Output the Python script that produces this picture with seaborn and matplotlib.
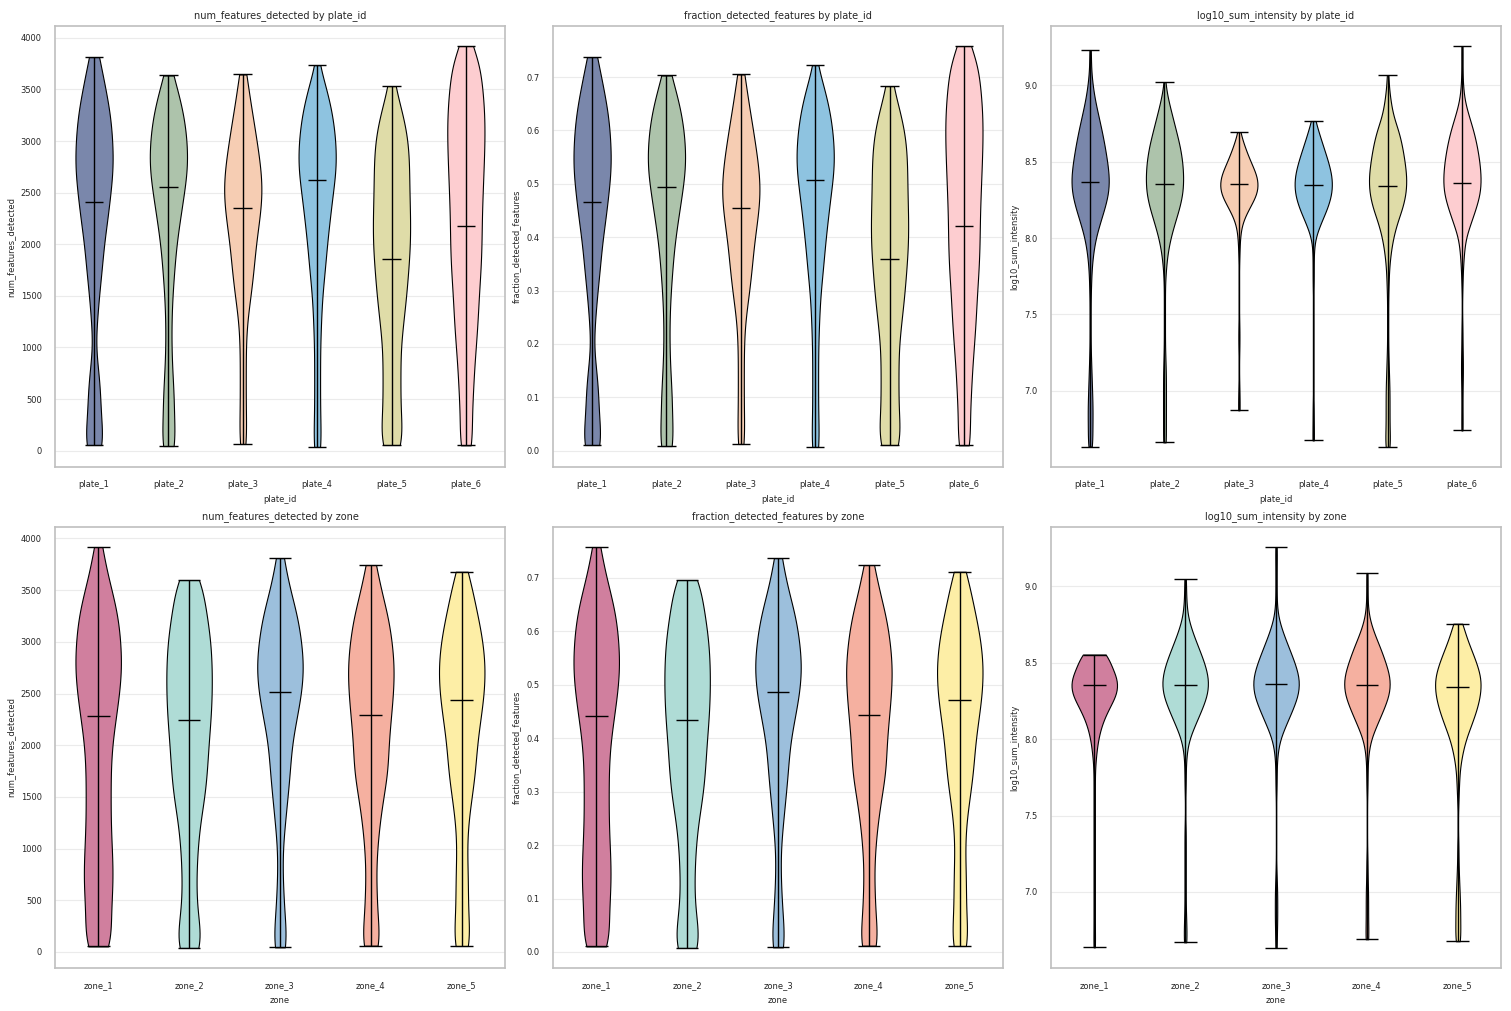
import numpy as np
import pandas as pd
import matplotlib
matplotlib.use("Agg")
import matplotlib.pyplot as plt
import seaborn as sns

# total number of features on the panel (fraction = detected / total)
TOTAL_FEATURES = 5170

PLATES = ["plate_1", "plate_2", "plate_3", "plate_4", "plate_5", "plate_6"]
ZONES = ["zone_1", "zone_2", "zone_3", "zone_4", "zone_5"]

PLATE_COLORS = ["#7a87ab", "#adc3ab", "#f6cdb3", "#8ec3e0", "#dfdca8", "#fdcdd0"]
ZONE_COLORS = ["#d07f9e", "#afdcd6", "#9cbfdc", "#f5b0a0", "#fdeea6"]

# bin centres used for the per-group sample counts
NUM_GRID = [250, 500, 750, 1000, 1250, 1500, 1750, 2000, 2250, 2500, 2750,
            3000, 3250, 3500, 3750]
LOG_GRID = [6.7, 6.8, 6.9, 7.0, 7.1, 7.2, 7.3, 7.4, 7.5, 7.6, 7.7, 7.8, 7.9,
            8.0, 8.1, 8.2, 8.3, 8.4, 8.5, 8.6, 8.7, 8.8, 8.9, 9.0, 9.1, 9.2]

# ---- num_features_detected by plate ----
plate_num_min = [55, 45, 65, 36, 55, 52]
plate_num_max = [3813, 3635, 3645, 3735, 3532, 3920]
plate_num_mean = [2410, 2555, 2350, 2622, 1857, 2176]
# counts: [at min] + NUM_GRID + [at max]
plate_num_counts = [
    [10, 6, 7, 5, 1, 3, 5, 8, 10, 14, 17, 20, 19, 17, 12, 6, 1],
    [7, 5, 6, 4, 3, 3, 4, 6, 8, 12, 16, 20, 19, 16, 9, 0, 1],
    [3, 3, 3, 3, 3, 4, 8, 11, 13, 17, 20, 18, 14, 10, 5, 0, 2],
    [4, 3, 3, 3, 3, 4, 5, 8, 10, 13, 16, 20, 19, 16, 10, 0, 1],
    [10, 9, 9, 9, 9, 12, 15, 17, 19, 19, 18, 18, 17, 12, 3, 0, 1],
    [6, 5, 7, 8, 10, 12, 13, 15, 16, 16, 17, 18, 19, 19, 17, 14, 3],
]

# ---- num_features_detected by zone ----
zone_num_min = [54, 39, 45, 61, 58]
zone_num_max = [3917, 3598, 3810, 3743, 3678]
zone_num_mean = [2279, 2244, 2515, 2292, 2437]
zone_num_counts = [
    [9, 9, 11, 12, 11, 10, 10, 10, 11, 14, 17, 19, 18, 16, 11, 5, 2],
    [10, 8, 6, 6, 7, 9, 13, 15, 16, 18, 19, 19, 18, 15, 10, 0, 4],
    [5, 4, 3, 2, 2, 4, 6, 8, 9, 13, 17, 19, 17, 14, 8, 3, 1],
    [7, 5, 5, 4, 5, 7, 10, 14, 14, 16, 18, 19, 17, 14, 8, 0, 4],
    [6, 5, 5, 5, 4, 5, 8, 11, 12, 15, 18, 19, 17, 13, 8, 0, 3],
]

# ---- log10_sum_intensity by plate ----
plate_log_min = [6.635, 6.662, 6.872, 6.675, 6.632, 6.74]
plate_log_max = [9.23, 9.022, 8.694, 8.767, 9.068, 9.258]
plate_log_mean = [8.367, 8.355, 8.355, 8.349, 8.34, 8.362]
# counts: [at min] + LOG_GRID + [at max]
plate_log_counts = [
    [3, 4, 5, 5, 4, 3, 2, 1, 1, 1, 1, 2, 3, 6, 11, 20, 30, 38, 39, 35, 30, 24, 17, 10, 5, 2, 1, 1],
    [2, 2, 3, 3, 3, 3, 2, 1, 1, 1, 1, 1, 3, 6, 12, 21, 31, 38, 39, 37, 32, 24, 16, 8, 1, 0, 0, 1],
    [1, 0, 0, 1, 1, 0, 0, 1, 1, 0, 0, 0, 0, 1, 2, 5, 20, 38, 37, 22, 11, 0, 0, 0, 0, 0, 0, 1],
    [1, 1, 1, 1, 0, 0, 0, 0, 0, 0, 0, 1, 1, 1, 3, 15, 29, 38, 38, 30, 20, 10, 0, 0, 0, 0, 0, 1],
    [4, 4, 4, 4, 4, 3, 2, 1, 1, 1, 1, 2, 3, 6, 11, 19, 31, 38, 39, 35, 30, 23, 11, 6, 2, 0, 0, 1],
    [1, 0, 1, 1, 1, 2, 2, 1, 1, 0, 0, 1, 2, 4, 7, 18, 29, 38, 39, 36, 31, 24, 14, 5, 2, 1, 1, 1],
]

# ---- log10_sum_intensity by zone ----
zone_log_min = [6.637, 6.67, 6.633, 6.69, 6.677]
zone_log_max = [8.554, 9.046, 9.258, 9.088, 8.756]
zone_log_mean = [8.354, 8.354, 8.36, 8.354, 8.341]
zone_log_counts = [
    [1, 1, 1, 1, 1, 1, 1, 1, 1, 1, 1, 1, 1, 3, 6, 12, 23, 38, 39, 20, 0, 0, 0, 0, 0, 0, 0, 14],
    [1, 2, 2, 1, 1, 1, 1, 1, 1, 0, 0, 1, 1, 2, 6, 17, 28, 38, 39, 32, 22, 12, 4, 2, 1, 0, 0, 1],
    [1, 1, 2, 2, 2, 1, 0, 0, 0, 0, 0, 1, 1, 2, 6, 17, 28, 38, 39, 31, 21, 11, 3, 1, 1, 1, 1, 1],
    [1, 2, 2, 2, 2, 1, 1, 0, 0, 0, 0, 1, 1, 2, 6, 17, 28, 38, 39, 31, 22, 11, 3, 1, 1, 0, 0, 1],
    [1, 4, 4, 4, 3, 2, 1, 1, 0, 0, 1, 2, 3, 7, 13, 23, 32, 38, 39, 31, 21, 10, 0, 0, 0, 0, 0, 4],
]

NUM_BW = 190.0
LOG_BW = 0.07


def expand(grid, counts, lo, hi):
    pts = np.concatenate([[lo], grid, [hi]])
    return np.repeat(pts, counts)


def violin_panel(ax, cats, colors, grid, counts, lo, hi, mean, metric, group, bw, scale=1.0):
    frames = []
    for cat, c, l, h in zip(cats, counts, lo, hi):
        vals = expand(grid, c, l, h) / scale
        frames.append(pd.DataFrame({group: cat, metric: vals}))
    df = pd.concat(frames, ignore_index=True)
    bw_abs = bw / scale

    sns.violinplot(data=df, x=group, y=metric, hue=group, order=cats, hue_order=cats,
                   palette=colors, legend=False, cut=0, density_norm="width",
                   width=0.5, inner=None, linecolor="black", linewidth=0.8,
                   saturation=1, bw_method=lambda k: bw_abs / np.std(k.dataset, ddof=1),
                   ax=ax)

    lo = np.asarray(lo) / scale
    hi = np.asarray(hi) / scale
    mean = np.asarray(mean) / scale
    for i in range(len(cats)):
        ax.vlines(i, lo[i], hi[i], colors="black", linewidth=1.0, zorder=3)
        ax.hlines([lo[i], hi[i], mean[i]], i - 0.125, i + 0.125, colors="black",
                  linewidth=1.0, zorder=3)

    n = len(cats)
    xm = 0.05 * (n - 1 + 0.5)
    ax.set_xlim(-0.25 - xm, n - 1 + 0.25 + xm)
    ymin, ymax = lo.min(), hi.max()
    ym = 0.05 * (ymax - ymin)
    ax.set_ylim(ymin - ym, ymax + ym)

    ax.set_title(f"{metric} by {group}", fontsize=7)
    ax.set_xlabel(group, fontsize=6)
    ax.set_ylabel(metric, fontsize=6)
    ax.tick_params(axis="both", labelsize=6)


sns.set_theme(style="whitegrid", rc={"axes.edgecolor": "0.75", "grid.color": "0.92",
                                      "axes.linewidth": 1.2, "grid.linewidth": 0.8})

fig, axes = plt.subplots(2, 3, figsize=(15.11, 10.11), dpi=100)
fig.subplots_adjust(left=55 / 1511, right=1501 / 1511, bottom=1 - 968 / 1011,
                    top=1 - 26 / 1011, wspace=0.107, hspace=0.136)

violin_panel(axes[0, 0], PLATES, PLATE_COLORS, NUM_GRID, plate_num_counts,
             plate_num_min, plate_num_max, plate_num_mean,
             "num_features_detected", "plate_id", NUM_BW)
violin_panel(axes[0, 1], PLATES, PLATE_COLORS, NUM_GRID, plate_num_counts,
             plate_num_min, plate_num_max, plate_num_mean,
             "fraction_detected_features", "plate_id", NUM_BW, scale=TOTAL_FEATURES)
violin_panel(axes[0, 2], PLATES, PLATE_COLORS, LOG_GRID, plate_log_counts,
             plate_log_min, plate_log_max, plate_log_mean,
             "log10_sum_intensity", "plate_id", LOG_BW)

violin_panel(axes[1, 0], ZONES, ZONE_COLORS, NUM_GRID, zone_num_counts,
             zone_num_min, zone_num_max, zone_num_mean,
             "num_features_detected", "zone", NUM_BW)
violin_panel(axes[1, 1], ZONES, ZONE_COLORS, NUM_GRID, zone_num_counts,
             zone_num_min, zone_num_max, zone_num_mean,
             "fraction_detected_features", "zone", NUM_BW, scale=TOTAL_FEATURES)
violin_panel(axes[1, 2], ZONES, ZONE_COLORS, LOG_GRID, zone_log_counts,
             zone_log_min, zone_log_max, zone_log_mean,
             "log10_sum_intensity", "zone", LOG_BW)

fig.savefig("out.png", dpi=100)
